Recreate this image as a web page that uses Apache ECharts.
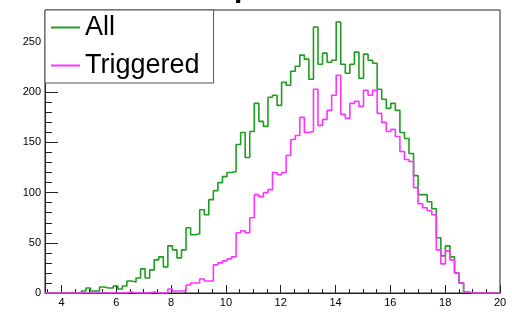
<!DOCTYPE html>
<html>
<head>
<meta charset="utf-8">
<script src="https://cdn.jsdelivr.net/npm/echarts@6.0.0/dist/echarts.min.js"></script>
<style>
html, body { margin: 0; background: #fff; }
#chart { width: 512px; height: 320px; }
</style>
</head>
<body>
<div id="chart"></div>
<script>
// 100 bins from 3.4 to 20
const binLow = 3.4
const binHigh = 20
const nBins = 100

const seriesNames = ["All", "Triggered"]

const allCounts = [
  0, 0, 0, 0, 0, 0, 0, 0, 2, 5,
  2, 2, 6, 5, 5, 7, 4, 7, 12, 11,
  15, 24, 15, 23, 33, 36, 26, 47, 43, 35,
  43, 65, 58, 59, 83, 78, 93, 102, 110, 116,
  120, 121, 148, 160, 135, 161, 189, 171, 166, 195,
  197, 187, 210, 207, 221, 226, 237, 233, 213, 265,
  228, 239, 230, 232, 270, 228, 219, 228, 240, 214,
  238, 232, 229, 203, 193, 184, 189, 182, 160, 154,
  139, 117, 98, 98, 91, 84, 55, 37, 47, 36,
  20, 10, 1, 0, 0, 0, 0, 0, 0, 0
]

const triggeredCounts = [
  0, 0, 0, 0, 0, 0, 0, 0, 0, 0,
  0, 0, 0, 0, 0, 0, 0, 0, 1, 0,
  0, 0, 0, 1, 0, 0, 0, 4, 2, 2,
  2, 8, 10, 10, 14, 12, 12, 28, 30, 32,
  34, 36, 60, 62, 60, 75, 98, 96, 100, 103,
  120, 118, 120, 137, 153, 157, 175, 160, 161, 203,
  167, 173, 182, 197, 217, 178, 174, 189, 191, 186,
  202, 197, 202, 179, 170, 161, 163, 156, 141, 133,
  131, 105, 89, 85, 82, 78, 43, 29, 42, 33,
  20, 10, 1, 0, 0, 0, 0, 0, 0, 0
]

const xMajor = [4, 6, 8, 10, 12, 14, 16, 18, 20]
const xMinor = [3.5, 4.5, 5, 5.5, 6.5, 7, 7.5, 8.5, 9, 9.5, 10.5, 11, 11.5, 12.5, 13, 13.5,
  14.5, 15, 15.5, 16.5, 17, 17.5, 18.5, 19, 19.5]
const yMajor = [0, 50, 100, 150, 200, 250]
const yMinor = [10, 20, 30, 40, 60, 70, 80, 90, 110, 120, 130, 140, 160, 170, 180, 190,
  210, 220, 230, 240, 260, 270, 280]

const font = "Liberation Sans"

// bin contents -> points at the left bin edges, closed at the last edge
function stepPoints(counts) {
  const w = (binHigh - binLow) / nBins
  const pts = counts.map((c, i) => [binLow + i * w, c])
  pts.push([binHigh, counts[counts.length - 1]])
  return pts
}

const chart = echarts.init(document.getElementById("chart"))

const hidden = { show: false }

const option = {
  animation: false,
  grid: {
    left: 45, right: 12, top: 10, bottom: 27,
    show: true, borderColor: "#222", borderWidth: 1,
    outerBoundsMode: "none"
  },
  graphic: [
    {
      type: "text", x: 199, y: -11,
      style: { text: "hep", font: "bold 30px " + font, fill: "#000", verticalAlign: "middle" }
    }
  ],
  legend: {
    left: 45, top: 10, orient: "vertical",
    padding: [4, 14, 4, 6],
    itemGap: 11, itemWidth: 29, itemHeight: 2, icon: "rect",
    backgroundColor: "#fff", borderColor: "#555", borderWidth: 1,
    textStyle: { fontSize: 27, fontFamily: font, color: "#000" },
    data: seriesNames
  },
  xAxis: [
    {
      type: "value", min: binLow, max: binHigh,
      splitLine: hidden,
      axisLine: { lineStyle: { color: "#222", width: 1 } },
      axisTick: { inside: true, length: 8, customValues: xMajor, lineStyle: { color: "#222" } },
      axisLabel: { customValues: xMajor, margin: 4, fontSize: 11, fontFamily: font, color: "#000" },
      name: "hep Neutrino Energy", nameLocation: "end", nameGap: 0,
      nameTextStyle: { align: "right", verticalAlign: "top", padding: [14, 0, 0, 0], fontSize: 10, fontFamily: font, color: "#000" }
    },
    {
      type: "value", min: binLow, max: binHigh, position: "bottom",
      splitLine: hidden, axisLine: hidden, axisLabel: hidden,
      axisTick: { inside: true, length: 4, customValues: xMinor, lineStyle: { color: "#222" } }
    }
  ],
  yAxis: [
    {
      type: "value", min: 0, max: 282,
      splitLine: hidden,
      axisLine: { show: true, lineStyle: { color: "#222", width: 1 } },
      axisTick: { show: true, inside: true, length: 13, customValues: yMajor, lineStyle: { color: "#222" } },
      axisLabel: { customValues: yMajor, margin: 4, fontSize: 11, fontFamily: font, color: "#000" }
    },
    {
      type: "value", min: 0, max: 282, position: "left",
      splitLine: hidden, axisLine: hidden, axisLabel: hidden,
      axisTick: { show: true, inside: true, length: 7, customValues: yMinor, lineStyle: { color: "#222" } }
    }
  ],
  series: [
    {
      name: seriesNames[0], type: "line", step: "end", symbol: "none",
      xAxisIndex: 0, yAxisIndex: 0,
      color: "#1e9e1e", lineStyle: { width: 1.6 },
      data: stepPoints(allCounts)
    },
    {
      name: seriesNames[1], type: "line", step: "end", symbol: "none",
      xAxisIndex: 0, yAxisIndex: 0,
      color: "#ff33ff", lineStyle: { width: 1.6 },
      data: stepPoints(triggeredCounts)
    }
  ]
}

chart.setOption(option)
</script>
</body>
</html>
